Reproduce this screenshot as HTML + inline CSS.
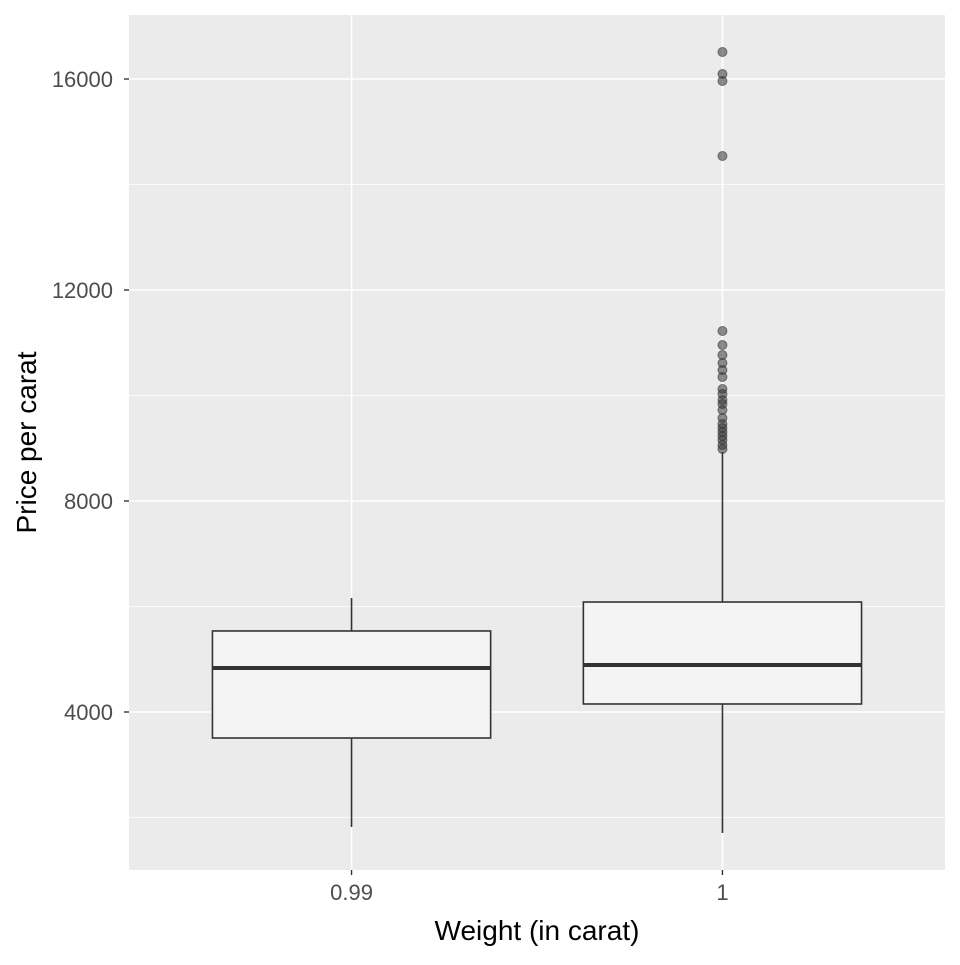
<!DOCTYPE html>
<html><head><meta charset="utf-8"><style>
body{margin:0;background:#fff;font-family:"Liberation Sans",sans-serif}
</style></head><body>
<svg id="c" width="960" height="960" xmlns="http://www.w3.org/2000/svg"></svg>
<script>
const categories=["0.99","1"];
const q1=[3507,4152];
const medians=[4834,4891];
const q3=[5536,6085];
const whiskerLow=[1820,1706];
const whiskerHigh=[6161,8929];
const outliers1=[16512,16095,15962,14540,11223,10957,10768,10616,10483,10351,10123,10028,9915,9839,9725,9573,9460,9384,9308,9232,9156,9062,8986];
const outliers=[[],outliers1];
const yTicks=[4000,8000,12000,16000];
const yMinor=[2000,6000,10000,14000];

const NS="http://www.w3.org/2000/svg";
const svg=document.getElementById('c');
const L=129,R=945,T=15,B=870;
const y=v=>712-(v-4000)*0.05275;
const x=i=>L+(i+1-0.4)*(R-L)/2.2;
const bw=0.75*(R-L)/2.2;
function mk(t,a){const e=document.createElementNS(NS,t);for(const k in a)e.setAttribute(k,a[k]);svg.appendChild(e);return e;}
let e=mk('rect',{x:L,y:T,width:R-L,height:B-T,fill:'#ebebeb'});


yMinor.forEach(v=>{const g=mk('line',{x1:L,x2:R,y1:y(v),y2:y(v),stroke:'#fff','stroke-width':0.8});

});
yTicks.forEach(v=>{const g=mk('line',{x1:L,x2:R,y1:y(v),y2:y(v),stroke:'#fff','stroke-width':1.6});


mk('line',{x1:L-5,x2:L,y1:y(v),y2:y(v),stroke:'#333','stroke-width':1.4});
const t=mk('text',{x:L-16,y:y(v)+8,'text-anchor':'end','font-size':22,fill:'#4d4d4d'});t.textContent=v;

});
categories.forEach((c,i)=>{const cx=x(i);
const g=mk('line',{x1:cx,x2:cx,y1:T,y2:B,stroke:'#fff','stroke-width':1.6});


mk('line',{x1:cx,x2:cx,y1:B,y2:B+5,stroke:'#333','stroke-width':1.4});
const t=mk('text',{x:cx,y:B+30,'text-anchor':'middle','font-size':22,fill:'#4d4d4d'});t.textContent=c;


const w1=mk('line',{x1:cx,x2:cx,y1:y(q3[i]),y2:y(whiskerHigh[i]),stroke:'#333','stroke-width':1.6});


const w2=mk('line',{x1:cx,x2:cx,y1:y(q1[i]),y2:y(whiskerLow[i]),stroke:'#333','stroke-width':1.6});


const b=mk('rect',{x:cx-bw/2,y:y(q3[i]),width:bw,height:y(q1[i])-y(q3[i]),fill:'#f4f4f4',stroke:'#333','stroke-width':1.6});


const m=mk('line',{x1:cx-bw/2,x2:cx+bw/2,y1:y(medians[i]),y2:y(medians[i]),stroke:'#333','stroke-width':4});


outliers[i].forEach(v=>{const p=mk('circle',{cx:cx,cy:y(v),r:4.5,fill:'rgba(51,51,51,0.55)',stroke:'rgba(51,51,51,0.6)','stroke-width':1});

});
});
let t=mk('text',{x:(L+R)/2,y:940,'text-anchor':'middle','font-size':28,fill:'#000'});t.textContent='Weight (in carat)';


t=mk('text',{x:0,y:0,'text-anchor':'middle','font-size':28,fill:'#000',transform:`translate(36,${(T+B)/2}) rotate(-90)`});t.textContent='Price per carat';


</script>
</body></html>
